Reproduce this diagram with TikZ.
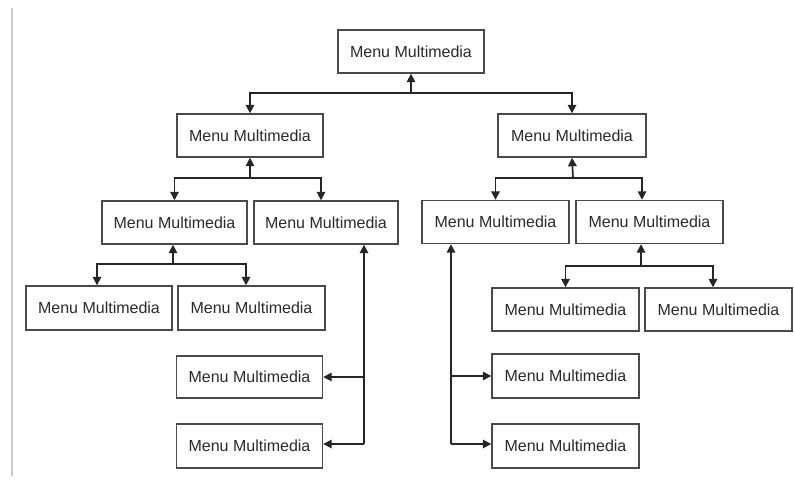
\documentclass[tikz,border=0pt]{standalone}
\usepackage{fontspec}
\setmainfont{Liberation Sans}
\usetikzlibrary{arrows.meta}
\definecolor{boxline}{HTML}{4A4A4A}
\definecolor{txt}{HTML}{2A2A2A}
\definecolor{sideline}{HTML}{C8C8C8}
\tikzset{
  menubox/.style={draw=boxline, line width=1.4pt, fill=white,
    minimum width=146pt, minimum height=43pt, inner sep=0pt,
    text=txt, font=\fontsize{16}{19}\selectfont},
  link/.style={draw=black!85, line width=1.7pt,
    -{Triangle[length=8.5pt,width=8.5pt]}}
}
\begin{document}
\begin{tikzpicture}[x=1pt,y=-1pt]
  \useasboundingbox (0,0) rectangle (794,484);
  % page margin rule on the left
  \draw[sideline, line width=2pt] (12,8) -- (12,476);

  % menu boxes
  \node[menubox] (top) at (411,51.5)  {Menu Multimedia};
  \node[menubox] (la)  at (250,135.5) {Menu Multimedia};
  \node[menubox, minimum width=148pt] (ra) at (572,135.5) {Menu Multimedia};
  \node[menubox, minimum width=145pt] (a) at (174.5,222.5) {Menu Multimedia};
  \node[menubox, minimum width=144pt] (b) at (326,222.5)   {Menu Multimedia};
  \node[menubox, minimum width=147pt] (c) at (495.5,222)   {Menu Multimedia};
  \node[menubox, minimum width=147pt] (d) at (649.5,222)   {Menu Multimedia};
  \node[menubox, minimum height=44pt] (e) at (99,308)      {Menu Multimedia};
  \node[menubox, minimum height=44pt, minimum width=147pt] (f) at (251.5,308) {Menu Multimedia};
  \node[menubox, minimum height=42pt] (g) at (249.5,377)   {Menu Multimedia};
  \node[menubox, minimum height=44pt] (h) at (249.5,446)   {Menu Multimedia};
  \node[menubox, minimum width=147pt] (i) at (565.5,309.5) {Menu Multimedia};
  \node[menubox, minimum width=147pt] (j) at (718.5,309.5) {Menu Multimedia};
  \node[menubox, minimum width=147pt, minimum height=44pt] (k) at (565.5,376) {Menu Multimedia};
  \node[menubox, minimum width=147pt, minimum height=44pt] (l) at (565.5,446) {Menu Multimedia};

  % junction points of the connectors
  \coordinate (j1) at (411,93);
  \coordinate (j2) at (250,178);
  \coordinate (j3) at (573,178);
  \coordinate (j4) at (173,264);
  \coordinate (j5) at (641,266);
  \coordinate (bj) at (364,444);
  \coordinate (cj) at (451,444);

  % top level
  \draw[link] (j1) -- (top.south);
  \draw[link] (j1) -| (la.north);
  \draw[link] (j1) -| (ra.north);

  % left branch
  \draw[link] (j2) -- (la.south);
  \draw[link] (j2) -| (a.north);
  \draw[link] (j2) -| ([xshift=-5pt]b.north);

  % right branch
  \draw[link] (j3) -- (ra.south);
  \draw[link] (j3) -| (c.north);
  \draw[link] (j3) -| ([xshift=-7.5pt]d.north);

  % children of a
  \draw[link] (j4) -- (j4 |- a.south);
  \draw[link] (j4) -| ([xshift=-2pt]e.north);
  \draw[link] (j4) -| ([xshift=-5.5pt]f.north);

  % children of d
  \draw[link] (j5) -- (j5 |- d.south);
  \draw[link] (j5) -| (i.north);
  \draw[link] (j5) -| ([xshift=-5.5pt]j.north);

  % side list under b
  \draw[link] (bj) -- (bj |- b.south);
  \draw[link] (bj) -- (bj -| h.east);
  \draw[link] (bj |- g.east) -- (g.east);

  % side list under c
  \draw[link] (cj) -- (cj |- c.south);
  \draw[link] (cj) -- (cj -| l.west);
  \draw[link] (cj |- k.west) -- (k.west);
\end{tikzpicture}
\end{document}
